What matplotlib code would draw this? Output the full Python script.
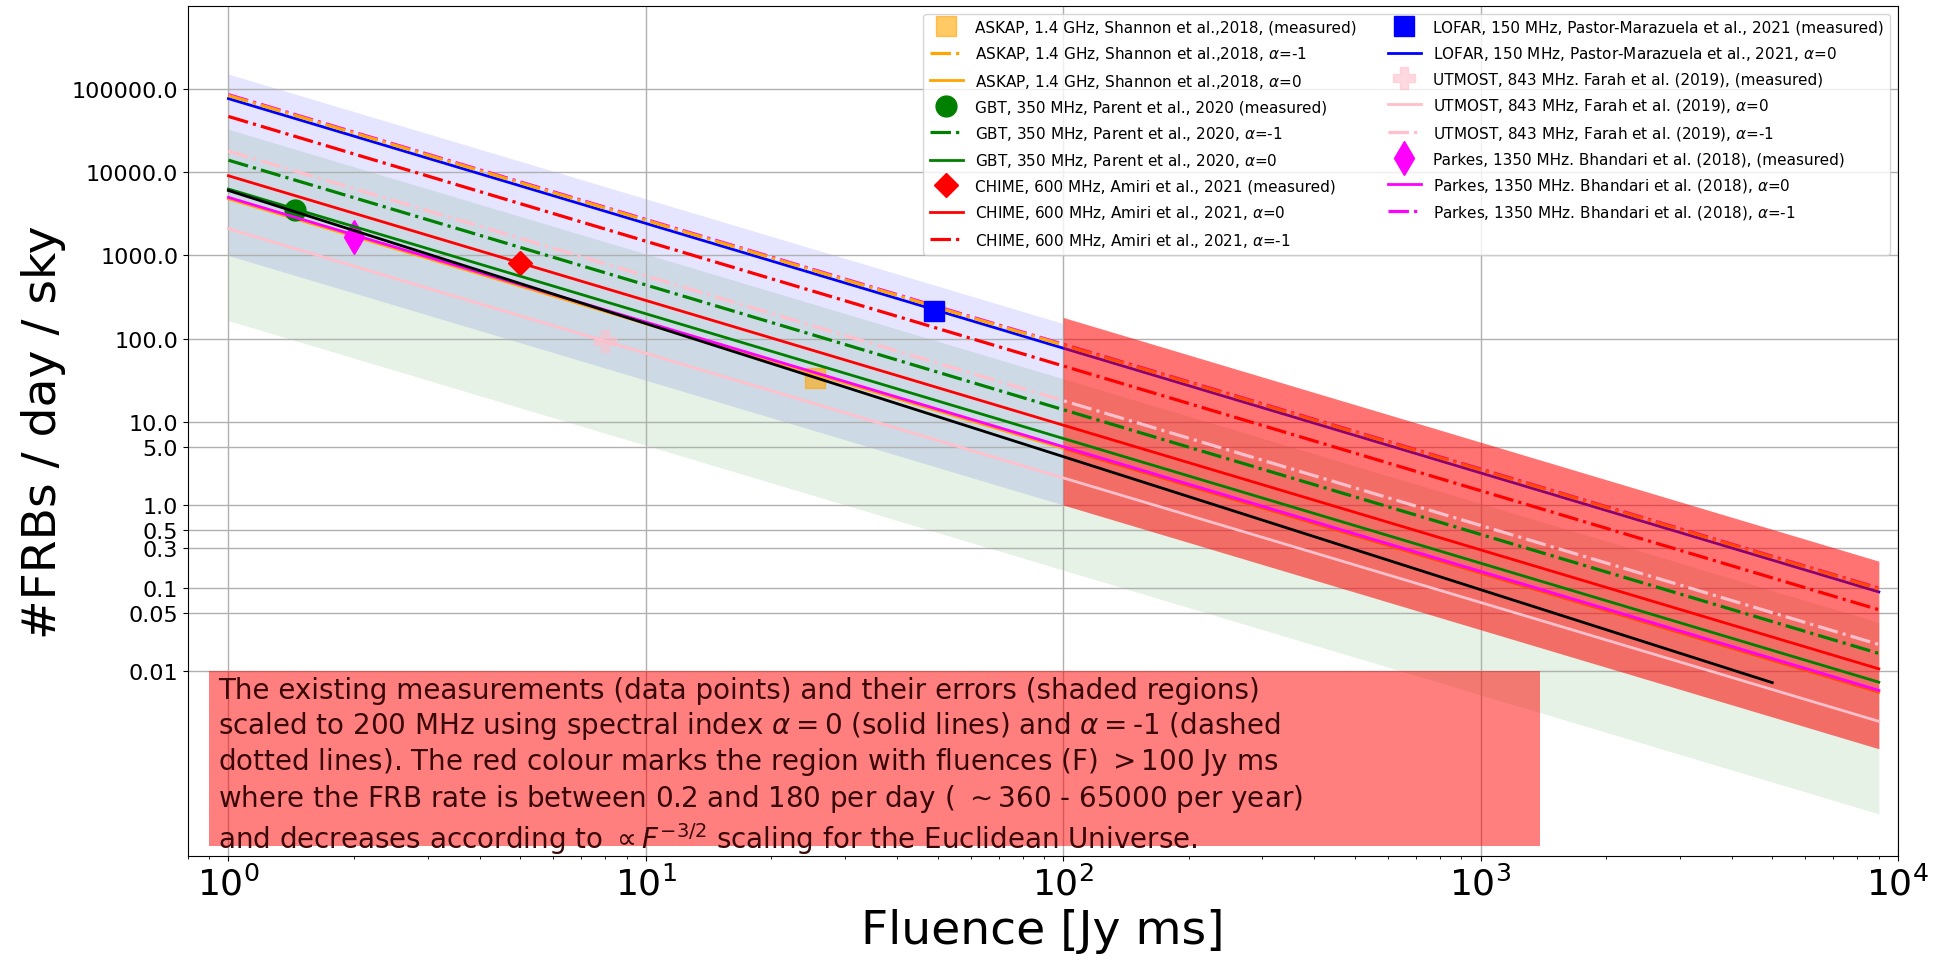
import matplotlib
matplotlib.use("Agg")
import matplotlib.pyplot as plt
from matplotlib.patches import Rectangle
from matplotlib.ticker import NullLocator

# ---- data (rates in #FRBs / day / sky) ----
surveys = ["ASKAP", "GBT", "CHIME", "LOFAR", "UTMOST", "Parkes"]
colors = ["orange", "green", "red", "blue", "pink", "magenta"]
markers = ["s", "o", "D", "s", "P", "d"]
marker_sizes = [15, 15, 12, 15, 16, 17]
refs = ["ASKAP, 1.4 GHz, Shannon et al.,2018",
        "GBT, 350 MHz, Parent et al., 2020",
        "CHIME, 600 MHz, Amiri et al., 2021",
        "LOFAR, 150 MHz, Pastor-Marazuela et al., 2021",
        "UTMOST, 843 MHz, Farah et al. (2019)",
        "Parkes, 1350 MHz. Bhandari et al. (2018)"]
meas_labels = ["ASKAP, 1.4 GHz, Shannon et al.,2018, (measured)",
               "GBT, 350 MHz, Parent et al., 2020 (measured)",
               "CHIME, 600 MHz, Amiri et al., 2021 (measured)",
               "LOFAR, 150 MHz, Pastor-Marazuela et al., 2021 (measured)",
               "UTMOST, 843 MHz. Farah et al. (2019), (measured)",
               "Parkes, 1350 MHz. Bhandari et al. (2018), (measured)"]

meas_fluence = [25.4, 1.44, 5.0, 49.0, 8.0, 2.0]
meas_rate = [34, 3500, 810, 218, 93, 1670]

# scaled lines: value at F=1 and at F=9000
line_fluence = [1, 9000]
a0_start = [4800, 6300, 9100, 77000, 2100, 5000]
a0_end = [0.0056, 0.0074, 0.0107, 0.090, 0.0025, 0.0059]
am1_start = [84000, 14000, 47000, None, 18000, 86000]
am1_end = [0.098, 0.0164, 0.055, None, 0.021, 0.10]

black_fluence = [1, 5000]
black_rate = [6050, 0.0073]

# shaded error regions
blue_fluence = [1, 100]
blue_low = [1000, 1.0]
blue_high = [152000, 152]
green_fluence = [1, 9000]
green_low = [165, 0.000193]
green_high = [33000, 0.0386]
red_fluence = [100, 9000]
red_low = [1.0, 0.00117]
red_high = [180, 0.211]

yticks = [0.01, 0.05, 0.1, 0.3, 0.5, 1, 5, 10, 100, 1000, 10000, 100000]

fig = plt.figure(figsize=(19.5, 9.62), dpi=100)
ax = fig.add_axes([0.0964, 0.1091, 0.8769, 0.8836])
ax.set_xscale("log")
ax.set_yscale("log")

ax.fill_between(blue_fluence, blue_low, blue_high, color="blue", alpha=0.1, lw=0, zorder=1)
ax.fill_between(green_fluence, green_low, green_high, color="green", alpha=0.1, lw=0, zorder=1)
ax.fill_between(red_fluence, red_low, red_high, color="red", alpha=0.55, lw=0, zorder=2.5)

handles = {}
for i, s in enumerate(surveys):
    alpha = 0.6 if s in ("ASKAP", "UTMOST") else 1.0
    h, = ax.plot([meas_fluence[i]], [meas_rate[i]], ls="none", marker=markers[i],
                 color=colors[i], markersize=marker_sizes[i],
                 alpha=alpha, zorder=2.2, label=meas_labels[i])
    handles[(s, "m")] = h
    # LOFAR / ASKAP lines sit under the red region
    z = 3
    if s == "LOFAR":
        z = 2.0
    elif s == "ASKAP":
        z = 1.8
    h0, = ax.plot(line_fluence, [a0_start[i], a0_end[i]], color=colors[i], lw=2,
                  zorder=z, label=refs[i] + r", $\alpha$=0")
    handles[(s, "0")] = h0
    if am1_start[i] is not None:
        z1 = 3
        if s == "Parkes":
            z1 = 1.9
        elif s == "ASKAP":
            z1 = 2.05
        h1, = ax.plot(line_fluence, [am1_start[i], am1_end[i]], color=colors[i], lw=2.3,
                      ls="-.", zorder=z1, label=refs[i] + r", $\alpha$=-1")
        handles[(s, "1")] = h1

ax.plot(black_fluence, black_rate, color="black", lw=2, zorder=3)

order = [("ASKAP", "m"), ("ASKAP", "1"), ("ASKAP", "0"),
         ("GBT", "m"), ("GBT", "1"), ("GBT", "0"),
         ("CHIME", "m"), ("CHIME", "0"), ("CHIME", "1"),
         ("LOFAR", "m"), ("LOFAR", "0"),
         ("UTMOST", "m"), ("UTMOST", "0"), ("UTMOST", "1"),
         ("Parkes", "m"), ("Parkes", "0"), ("Parkes", "1")]
hl = [handles[k] for k in order]
leg = ax.legend(hl, [h.get_label() for h in hl], loc="upper right", ncol=2,
                fontsize=11, labelspacing=0.62, handlelength=2.2)
leg.set_zorder(10)

ax.set_xlim(0.8, 1e4)
ax.set_ylim(6e-5, 1e6)
ax.set_yticks(yticks)
ax.set_yticklabels([str(float(v)) for v in yticks])
ax.yaxis.set_minor_locator(NullLocator())
ax.tick_params(axis="y", labelsize=16)
ax.tick_params(axis="x", labelsize=26)
ax.grid(True, which="major", color="#b0b0b0", lw=1)

ax.set_xlabel("Fluence [Jy ms]", fontsize=34)
ax.set_ylabel("#FRBs / day / sky", fontsize=34)

ax.add_patch(Rectangle((0.0123, 0.0118), 0.7783, 0.2058, transform=ax.transAxes,
                       facecolor="red", alpha=0.5, lw=0, zorder=5))
note = ("The existing measurements (data points) and their errors (shaded regions)\n"
        r"scaled to 200 MHz using spectral index $\alpha = 0$ (solid lines) and $\alpha = $-1 (dashed" "\n"
        r"dotted lines). The red colour marks the region with fluences (F) $>$100 Jy ms" "\n"
        r"where the FRB rate is between 0.2 and 180 per day ( $\sim$360 - 65000 per year)" "\n"
        r"and decreases according to $\propto F^{-3/2}$ scaling for the Euclidean Universe.")
ax.text(0.0175, 0.212, note, transform=ax.transAxes, fontsize=20, va="top",
        color="#3a0808", zorder=6)

fig.savefig("out.png", dpi=100)
